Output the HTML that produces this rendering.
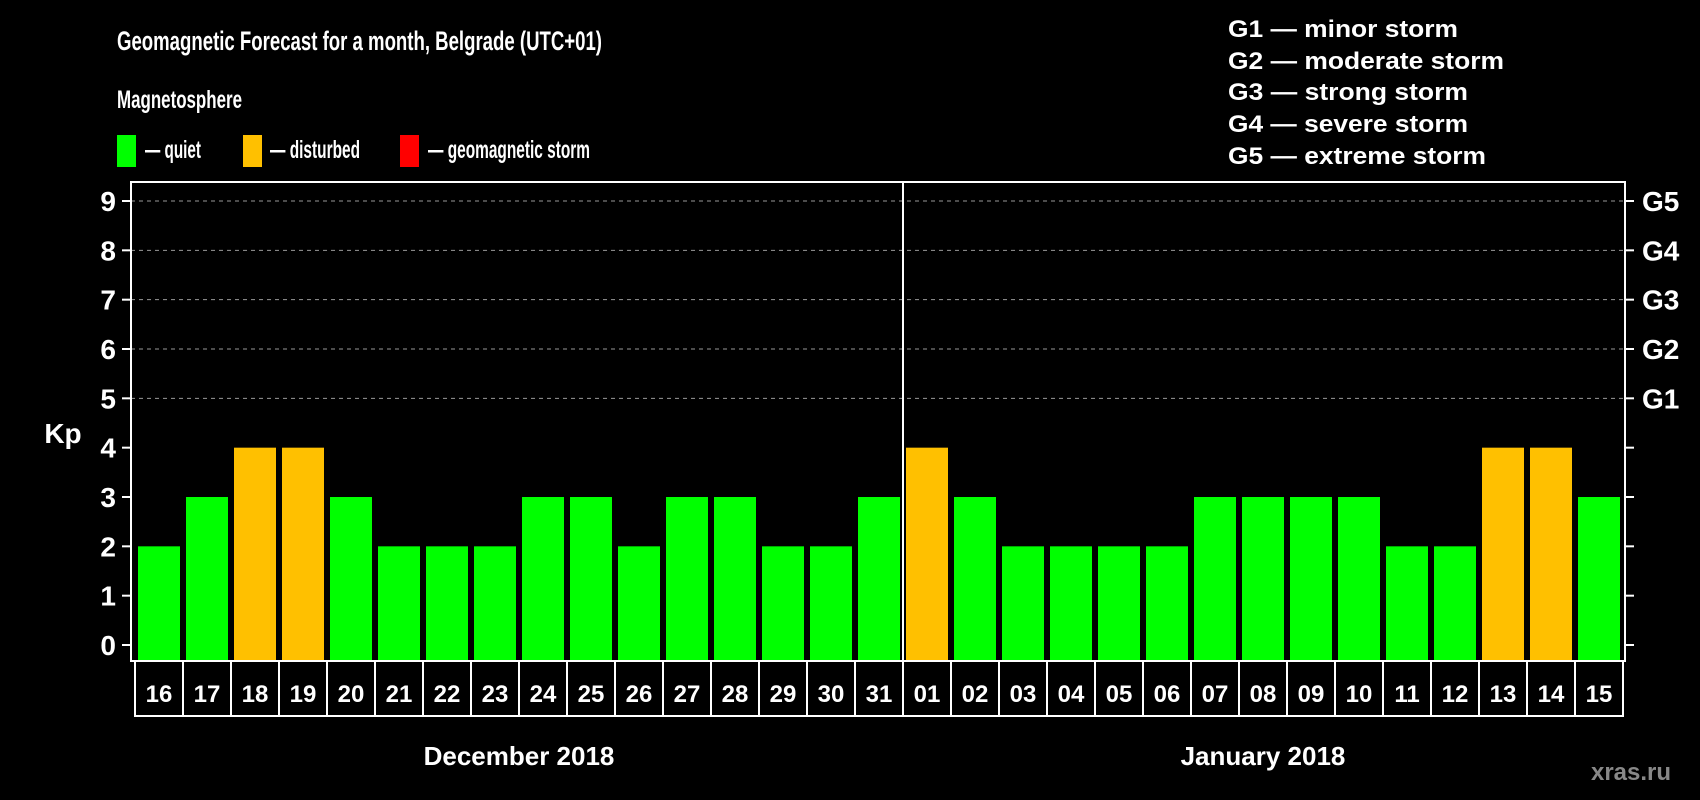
<!DOCTYPE html>
<html><head><meta charset="utf-8"><style>
html,body{margin:0;padding:0;background:#000;}
svg{display:block;font-family:"Liberation Sans",sans-serif;font-weight:bold;}
</style></head><body>
<svg id="chart" width="1700" height="800" viewBox="0 0 1700 800">
<rect width="1700" height="800" fill="#000"/>
<text x="117" y="50" fill="#fff" font-size="27" textLength="485" lengthAdjust="spacingAndGlyphs">Geomagnetic Forecast for a month, Belgrade (UTC+01)</text>
<text x="117" y="108" fill="#fff" font-size="25" textLength="125" lengthAdjust="spacingAndGlyphs">Magnetosphere</text>
<g><rect x="117" y="135" width="19" height="32" fill="#00ff00"/><text x="145" y="158" fill="#fff" font-size="25" textLength="56" lengthAdjust="spacingAndGlyphs">— quiet</text></g>
<g><rect x="243" y="135" width="19" height="32" fill="#ffc000"/><text x="270" y="158" fill="#fff" font-size="25" textLength="90" lengthAdjust="spacingAndGlyphs">— disturbed</text></g>
<g><rect x="400" y="135" width="19" height="32" fill="#ff0000"/><text x="428" y="158" fill="#fff" font-size="25" textLength="162" lengthAdjust="spacingAndGlyphs">— geomagnetic storm</text></g>
<g fill="#fff" font-size="24">
<text x="1228" y="37" textLength="230" lengthAdjust="spacingAndGlyphs">G1 — minor storm</text>
<text x="1228" y="69" textLength="276" lengthAdjust="spacingAndGlyphs">G2 — moderate storm</text>
<text x="1228" y="100" textLength="240" lengthAdjust="spacingAndGlyphs">G3 — strong storm</text>
<text x="1228" y="132" textLength="240" lengthAdjust="spacingAndGlyphs">G4 — severe storm</text>
<text x="1228" y="164" textLength="258" lengthAdjust="spacingAndGlyphs">G5 — extreme storm</text>
</g>
<text x="63" y="443" fill="#fff" font-size="28" text-anchor="middle">Kp</text>
<g id="grid"></g><g id="bars"></g><g id="axes"></g>
<text x="519" y="765" fill="#fff" font-size="26" text-anchor="middle">December 2018</text>
<text x="1263" y="765" fill="#fff" font-size="26" text-anchor="middle">January 2018</text>
<text x="1631" y="780" fill="#888" font-size="24" text-anchor="middle">xras.ru</text>
</svg>
<script>
const days = ["16","17","18","19","20","21","22","23","24","25","26","27","28","29","30","31","01","02","03","04","05","06","07","08","09","10","11","12","13","14","15"];
const kp = [2,3,4,4,3,2,2,2,3,3,2,3,3,2,2,3,4,3,2,2,2,2,3,3,3,3,2,2,4,4,3];
const yTicks = ["0","1","2","3","4","5","6","7","8","9"];
const gLabels = ["G1","G2","G3","G4","G5"];
const NS="http://www.w3.org/2000/svg";
const L=131,R=1625,T=182,B=661,x0=135,pitch=48;
const y=v=>645-v*(444/9);
const xs=i=>x0+i*pitch;
function mk(tag,attrs,parent,txt){const e=document.createElementNS(NS,tag);for(const k in attrs)e.setAttribute(k,attrs[k]);if(txt!=null)e.textContent=txt;parent.appendChild(e);return e;}
const grid=document.getElementById('grid'),bars=document.getElementById('bars'),axes=document.getElementById('axes');
for(let v=5;v<=9;v++){const g=mk('line',{x1:L,x2:R,y1:y(v),y2:y(v),stroke:'#999','stroke-dasharray':'4,4','stroke-width':1},grid);

}
kp.forEach((v,i)=>{const c=v>=5?'#ff0000':(v>=4?'#ffc000':'#00ff00');
const b=mk('rect',{x:xs(i)+3,y:y(v),width:42,height:y(0)-y(v)+16,fill:c},bars);

});
mk('rect',{x:L,y:T,width:R-L,height:B-T,fill:'none',stroke:'#fff','stroke-width':2},axes);
const dv=mk('line',{x1:xs(16),x2:xs(16),y1:T,y2:B,stroke:'#fff','stroke-width':2},axes);


yTicks.forEach((t,i)=>{mk('line',{x1:122,x2:L,y1:y(i),y2:y(i),stroke:'#fff','stroke-width':2},axes);
mk('line',{x1:R,x2:1634,y1:y(i),y2:y(i),stroke:'#fff','stroke-width':2},axes);
const tl=mk('text',{x:116,y:y(i)+10,fill:'#fff','font-size':28,'text-anchor':'end'},axes,t);

});
gLabels.forEach((g,i)=>{const tl=mk('text',{x:1642,y:y(i+5)+10,fill:'#fff','font-size':28},axes,g);

});
mk('line',{x1:xs(0),x2:xs(days.length),y1:716,y2:716,stroke:'#fff','stroke-width':2},axes);
for(let i=0;i<=days.length;i++)mk('line',{x1:xs(i),x2:xs(i),y1:B,y2:717,stroke:'#fff','stroke-width':2},axes);
days.forEach((d,i)=>{const t=mk('text',{x:xs(i)+24,y:702,fill:'#fff','font-size':24,'text-anchor':'middle'},axes,d);

});
</script>
</body></html>
